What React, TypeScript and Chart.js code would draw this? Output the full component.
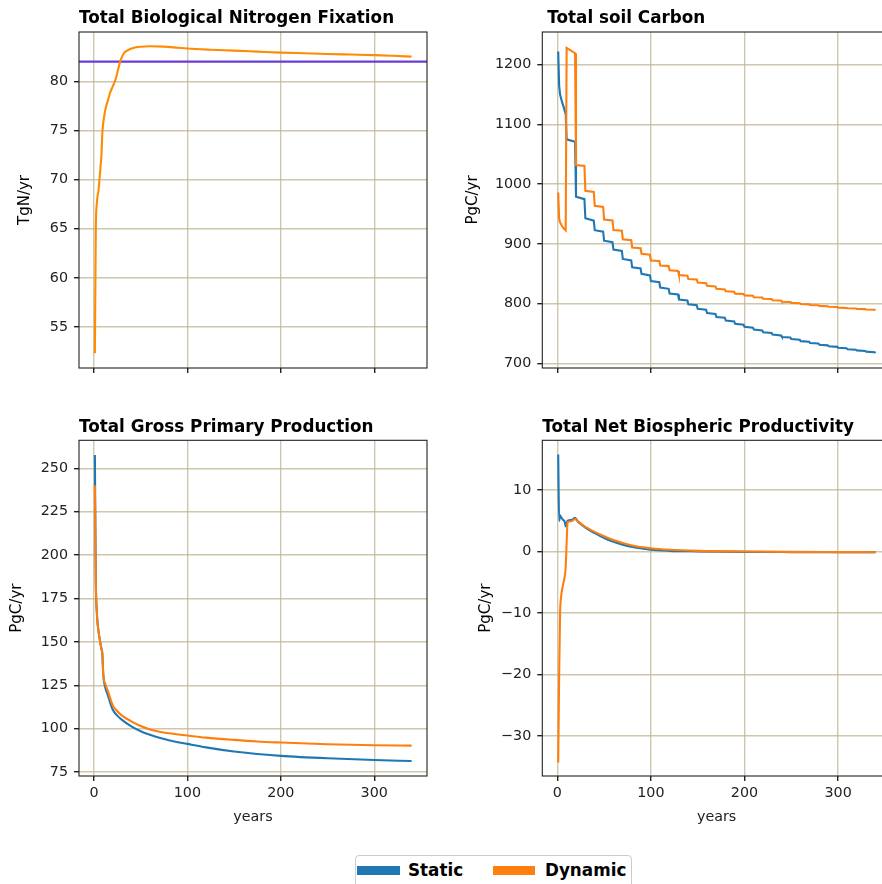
import React, { useEffect, useRef } from 'react';
import { Chart, registerables } from 'chart.js';

Chart.register(...registerables);
Chart.defaults.font.family = '"DejaVu Sans", sans-serif';

// ---------------- DATA ----------------
const xTicks = [0, 100, 200, 300];

// Total Biological Nitrogen Fixation (TgN/yr)
const nfixYears = [1, 2, 3, 4, 5, 7, 8, 9, 11, 13, 15, 17, 20, 23, 26, 29, 32, 36, 42, 50, 60, 75, 90, 100, 125, 150, 175, 200, 225, 250, 275, 300, 320, 340];
const nfixDynamic = [52.3, 65.0, 67.5, 68.4, 69.0, 71.3, 72.5, 74.8, 76.5, 77.5, 78.1, 78.8, 79.5, 80.2, 81.3, 82.3, 82.9, 83.2, 83.45, 83.57, 83.61, 83.58, 83.46, 83.38, 83.26, 83.17, 83.07, 82.97, 82.9, 82.83, 82.77, 82.71, 82.64, 82.56];
const nfixReference = [82.05, 82.05];
const nfixReferenceYears = [-16, 356.5];
const nfixTicks = [55, 60, 65, 70, 75, 80];

// Total soil Carbon (PgC/yr)
const soilYears = [1, 2, 3, 5, 7, 9,
  10, 19, 20, 29, 30, 39, 40, 49, 50, 59, 60, 69, 70, 79, 80, 89, 90, 99,
  100, 109, 110, 119, 120, 129, 130, 139, 140, 149, 150, 159, 160, 169, 170, 179, 180, 189, 190, 199,
  200, 209, 210, 219, 220, 229, 230, 239, 240, 249, 250, 259, 260, 269, 270, 279, 280, 289, 290, 299,
  300, 309, 310, 319, 320, 329, 330, 339, 340];
const soilStatic = [1222, 1165, 1150, 1138, 1128, 1117,
  1075, 1071, 979, 975, 943, 939, 923, 920.5, 905.5, 903, 890.5, 888.5, 875, 872.5, 861, 859, 850, 847.5,
  838, 836, 827, 825, 817, 815.5, 807, 805.5, 799, 797.5, 791.5, 790, 784.5, 783, 778, 776.5, 772, 770.5, 766.5, 765,
  761.5, 760, 757, 755.5, 752.5, 751, 748.5, 747, 744.5, 743.5, 741, 740, 737.5, 736.5, 734.5, 733.5, 731.5, 730.5, 729, 728,
  726.5, 725.5, 724, 723, 722, 721, 720, 719, 717.5];
const soilDynamic = [986, 942, 936, 930, 926, 923,
  1228, 1219, 1032, 1030.5, 989, 987, 964, 962, 941, 939.5, 923.5, 922, 908, 906.5, 894, 893, 883.5, 882,
  872.5, 871.5, 864, 863, 856, 855, 848, 847, 841.5, 840.5, 835.5, 834.5, 830, 829, 825, 824, 821, 820, 817, 816.5,
  814, 813.5, 811, 810.5, 808.5, 808, 806, 805.5, 803.5, 803, 801.5, 801, 799.5, 799, 798, 797.5, 796.5, 796, 795, 794.5,
  793.5, 793, 792.5, 792, 791.5, 791, 790.5, 790, 789.5];
const soilTicks = [700, 800, 900, 1000, 1100, 1200];

// Total Gross Primary Production (PgC/yr)
const gppYears = [1, 2, 3, 4, 6, 8, 9, 10, 12, 15, 20, 25, 30, 40, 50, 60, 70, 80, 100, 120, 150, 175, 200, 250, 300, 340];
const gppStatic = [257.6, 185, 168, 160, 152, 146, 143, 131, 124, 119, 111, 107.5, 105, 101.3, 98.5, 96.4, 94.7, 93.3, 91.2, 89.2, 86.8, 85.4, 84.3, 82.9, 81.9, 81.3];
const gppDynamic = [240, 185, 168, 160, 152, 146, 143, 131, 126, 121.5, 113.5, 110, 107.5, 104.2, 101.5, 99.5, 98.2, 97.3, 96, 94.8, 93.5, 92.6, 92, 91, 90.4, 90.2];
const gppTicks = [75, 100, 125, 150, 175, 200, 225, 250];

// Total Net Biospheric Productivity (PgC/yr)
const nbpYears = [1, 2, 3, 4, 6, 8, 9, 10, 11, 13, 16, 19, 22, 25, 30, 40, 50, 60, 70, 80, 100, 120, 150, 200, 250, 300, 340];
const nbpStatic = [15.8, 5.0, 5.9, 5.6, 5.2, 4.8, 4.1, 4.6, 5.0, 5.1, 5.2, 5.5, 4.9, 4.5, 3.9, 3.0, 2.2, 1.6, 1.1, 0.75, 0.3, 0.12, 0.03, -0.05, -0.08, -0.1, -0.1];
const nbpDynamic = [-34.3, -19.9, -10, -7.5, -5.5, -4, -2.5, 1.5, 4.8, 4.9, 5.0, 5.3, 4.9, 4.6, 4.0, 3.2, 2.5, 1.9, 1.4, 1.0, 0.55, 0.3, 0.12, 0.02, -0.05, -0.08, -0.1];
const nbpTicks = [-30, -20, -10, 0, 10];

const seriesNames = ['Static', 'Dynamic'];
const seriesColors = ['#1f77b4', '#ff7f0e'];

// ---------------- HELPERS ----------------
const pts = (xs: number[], ys: number[]) => xs.map((x, i) => ({ x, y: ys[i] }));
const fmt = (v: number) => (v < 0 ? '\u2212' + Math.abs(v) : String(v));

const framePlugin = {
  id: 'frameTitle',
  afterDatasetsDraw(chart: any) {
    const { ctx, chartArea: a } = chart;
    ctx.save();
    ctx.strokeStyle = '#222';
    ctx.lineWidth = 1.1;
    ctx.strokeRect(a.left, a.top, a.right - a.left, a.bottom - a.top);
    ctx.restore();
  },
  afterDraw(chart: any, _args: any, opts: any) {
    const { ctx, chartArea: a } = chart;
    if (!opts || !opts.text) return;
    ctx.save();
    ctx.font = 'bold 16.8px "DejaVu Sans"';
    ctx.fillStyle = '#000';
    ctx.textBaseline = 'alphabetic';
    ctx.textAlign = 'left';
    ctx.fillText(opts.text, a.left + (opts.dx || 0), a.top - 8.7);
    ctx.restore();
  },
};

type PanelSpec = {
  left: number; top: number; width: number; height: number;
  area: { left: number; top: number; right: number; bottom: number };
  title: string; titleDx: number;
  yMin: number; yMax: number; yTicks: number[]; yLabel: string; yLabelCenter: number;
  showX: boolean;
  datasets: any[];
};

const GRID = 'rgba(190,180,145,0.75)';

function Panel({ spec }: { spec: PanelSpec }) {
  const ref = useRef<HTMLCanvasElement | null>(null);
  useEffect(() => {
    if (!ref.current) return;
    const s = spec;
    const xHeight = s.height - s.area.bottom;
    const chart = new Chart(ref.current, {
      type: 'line',
      data: { datasets: s.datasets },
      plugins: [framePlugin],
      options: {
        animation: false,
        responsive: false,
        devicePixelRatio: 1,
        layout: { padding: { top: s.area.top, right: s.width - s.area.right, left: 0, bottom: 0 } },
        elements: { point: { radius: 0 } },
        plugins: {
          legend: { display: false },
          tooltip: { enabled: false },
          frameTitle: { text: s.title, dx: s.titleDx },
        } as any,
        scales: {
          x: {
            type: 'linear',
            min: -16,
            max: 356.5,
            afterBuildTicks: (sc: any) => { sc.ticks = xTicks.map((v) => ({ value: v })); },
            afterFit: (sc: any) => { sc.height = xHeight; },
            grid: { color: GRID, lineWidth: 1.4, tickColor: '#222', tickLength: 5, drawTicks: true },
            border: { display: false },
            ticks: {
              display: true,
              color: '#222',
              font: { size: 14.3 },
              padding: 4,
              maxRotation: 0,
              callback: (v: any) => (s.showX ? fmt(Number(v)) : ''),
            },
            title: {
              display: s.showX,
              text: 'years',
              color: '#222',
              font: { size: 14.3 },
              padding: { top: 0, bottom: 14.5 },
            },
          },
          y: {
            type: 'linear',
            min: s.yMin,
            max: s.yMax,
            afterBuildTicks: (sc: any) => { sc.ticks = s.yTicks.map((v) => ({ value: v })); },
            afterFit: (sc: any) => { sc.width = s.area.left; },
            grid: { color: GRID, lineWidth: 1.4, tickColor: '#222', tickLength: 5, drawTicks: true },
            border: { display: false },
            ticks: {
              color: '#222',
              font: { size: 14.3 },
              padding: 6,
              callback: (v: any) => fmt(Number(v)),
            },
            title: {
              display: true,
              text: s.yLabel,
              color: '#000',
              font: { size: 15 },
              padding: { top: s.yLabelCenter - 9, bottom: 0 },
            },
          },
        },
      } as any,
    });
    return () => chart.destroy();
  }, [spec]);
  return (
    <canvas
      ref={ref}
      width={spec.width}
      height={spec.height}
      style={{ position: 'absolute', left: spec.left, top: spec.top, width: spec.width, height: spec.height }}
    />
  );
}

const line = (label: string, data: any[], color: string, smooth: boolean) => ({
  label,
  data,
  borderColor: color,
  backgroundColor: color,
  borderWidth: 2.1,
  pointRadius: 0,
  fill: false,
  tension: 0,
  cubicInterpolationMode: smooth ? 'monotone' : 'default',
});

const panels: PanelSpec[] = [
  {
    left: 0, top: 0, width: 441, height: 400,
    area: { left: 79, top: 32, right: 427, bottom: 368 },
    title: 'Total Biological Nitrogen Fixation', titleDx: 0,
    yMin: 50.8, yMax: 85.07, yTicks: nfixTicks, yLabel: 'TgN/yr', yLabelCenter: 25,
    showX: false,
    datasets: [
      line('Dynamic', pts(nfixYears, nfixDynamic), '#ff8c00', true),
      line('Reference', pts(nfixReferenceYears, nfixReference), '#6a3cd6', false),
    ],
  },
  {
    left: 441, top: 0, width: 460, height: 400,
    area: { left: 101.3, top: 32, right: 450, bottom: 368 },
    title: 'Total soil Carbon', titleDx: 5,
    yMin: 692.6, yMax: 1254.5, yTicks: soilTicks, yLabel: 'PgC/yr', yLabelCenter: 31.7,
    showX: false,
    datasets: [
      line(seriesNames[1], pts(soilYears, soilDynamic), seriesColors[1], false),
      line(seriesNames[0], pts(soilYears, soilStatic), seriesColors[0], false),
    ],
  },
  {
    left: 0, top: 400, width: 441, height: 440,
    area: { left: 79, top: 40.3, right: 427, bottom: 376 },
    title: 'Total Gross Primary Production', titleDx: 0,
    yMin: 72.7, yMax: 266.1, yTicks: gppTicks, yLabel: 'PgC/yr', yLabelCenter: 17,
    showX: true,
    datasets: [
      line(seriesNames[1], pts(gppYears, gppDynamic), seriesColors[1], true),
      line(seriesNames[0], pts(gppYears, gppStatic), seriesColors[0], true),
    ],
  },
  {
    left: 441, top: 400, width: 460, height: 440,
    area: { left: 101.3, top: 40.3, right: 450, bottom: 376 },
    title: 'Total Net Biospheric Productivity', titleDx: 0,
    yMin: -36.5, yMax: 18.1, yTicks: nbpTicks, yLabel: 'PgC/yr', yLabelCenter: 45,
    showX: true,
    datasets: [
      line(seriesNames[1], pts(nbpYears, nbpDynamic), seriesColors[1], true),
      line(seriesNames[0], pts(nbpYears, nbpStatic), seriesColors[0], true),
    ],
  },
];

function Legend() {
  const text: React.CSSProperties = {
    position: 'absolute', top: 858, fontFamily: '"DejaVu Sans", sans-serif', fontWeight: 'bold',
    fontSize: 16.8, lineHeight: '24px', color: '#000', whiteSpace: 'nowrap',
  };
  return (
    <div>
      <div style={{ position: 'absolute', left: 355, top: 855, width: 277, height: 40, border: '1px solid #cccccc', borderRadius: 4, background: '#fff', boxSizing: 'border-box' }} />
      <div style={{ position: 'absolute', left: 357, top: 866, width: 43, height: 9, background: seriesColors[0] }} />
      <div style={{ ...text, left: 408 }}>{seriesNames[0]}</div>
      <div style={{ position: 'absolute', left: 493, top: 866, width: 42, height: 9, background: seriesColors[1] }} />
      <div style={{ ...text, left: 545 }}>{seriesNames[1]}</div>
    </div>
  );
}

export default function App() {
  return (
    <div style={{ position: 'absolute', left: 0, top: 0, width: 882, height: 884, overflow: 'hidden', background: '#fff' }}>
      {panels.map((p, i) => (
        <Panel key={i} spec={p} />
      ))}
      <Legend />
    </div>
  );
}
